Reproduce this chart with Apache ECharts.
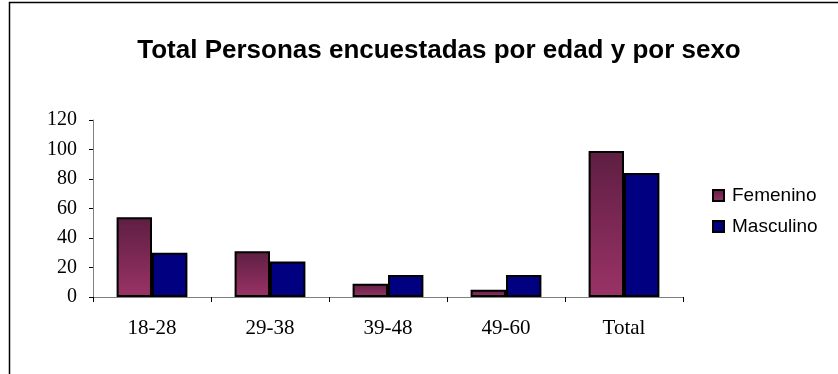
<!DOCTYPE html>
<html>
<head>
<meta charset="utf-8">
<script src="https://cdn.jsdelivr.net/npm/echarts@6/dist/echarts.min.js"></script>
<style>
  html, body { margin: 0; padding: 0; background: #fff; }
  #chart { width: 838px; height: 374px; }
</style>
</head>
<body>
<div id="chart"></div>
<script>
// datos
var edades = ['18-28', '29-38', '39-48', '49-60', 'Total'];
var femenino = [54, 31, 9, 5, 99];
var masculino = [30, 24, 15, 15, 84];
var yTicks = [0, 20, 40, 60, 80, 100, 120];

var chart = echarts.init(document.getElementById('chart'), null, { renderer: 'canvas' });

var gradFem = new echarts.graphic.LinearGradient(0, 0, 0, 1, [
  { offset: 0, color: '#5e1e42' },
  { offset: 1, color: '#9a3366' }
]);

var option = {
  backgroundColor: '#fff',
  animation: false,
  title: {
    text: 'Total Personas encuestadas por edad y por sexo',
    left: 434,
    top: 33,
    textAlign: 'center',
    textStyle: {
      fontFamily: 'Liberation Sans',
      fontSize: 26,
      fontWeight: 'bold',
      color: '#000'
    }
  },
  legend: {
    orient: 'vertical',
    left: 707,
    top: 181,
    icon: 'rect',
    itemWidth: 11,
    itemHeight: 11,
    itemGap: 12,
    textStyle: {
      fontFamily: 'Liberation Sans',
      fontSize: 19,
      color: '#000',
      padding: [0, 0, 0, 3]
    },
    data: ['Femenino', 'Masculino']
  },
  graphic: [{
    type: 'rect',
    shape: { x: 9.5, y: 2.5, width: 900, height: 400 },
    style: { fill: 'none', stroke: '#000', lineWidth: 1.5 },
    silent: true
  }],
  grid: {
    left: 93,
    right: 155,
    top: 120,
    bottom: 77
  },
  xAxis: {
    type: 'category',
    data: edades,
    axisLine: { lineStyle: { color: '#808080', width: 1 } },
    axisTick: { show: true, length: 5, lineStyle: { color: '#000' } },
    axisLabel: {
      margin: 21,
      fontFamily: 'Liberation Serif',
      fontSize: 21,
      color: '#000'
    }
  },
  yAxis: {
    type: 'value',
    min: yTicks[0],
    max: yTicks[yTicks.length - 1],
    interval: 20,
    splitLine: { show: false },
    axisLine: { show: true, lineStyle: { color: '#808080', width: 1 } },
    axisTick: { show: true, length: 4, lineStyle: { color: '#000' } },
    axisLabel: {
      margin: 16,
      fontFamily: 'Liberation Serif',
      fontSize: 20,
      color: '#000'
    }
  },
  series: [
    {
      name: 'Femenino',
      type: 'bar',
      data: femenino,
      barGap: '0%',
      barCategoryGap: '40%',
      itemStyle: {
        color: gradFem,
        borderColor: '#000',
        borderWidth: 2
      }
    },
    {
      name: 'Masculino',
      type: 'bar',
      data: masculino,
      itemStyle: {
        color: '#000080',
        borderColor: '#000',
        borderWidth: 2
      }
    }
  ]
};

chart.setOption(option);
</script>
</body>
</html>
